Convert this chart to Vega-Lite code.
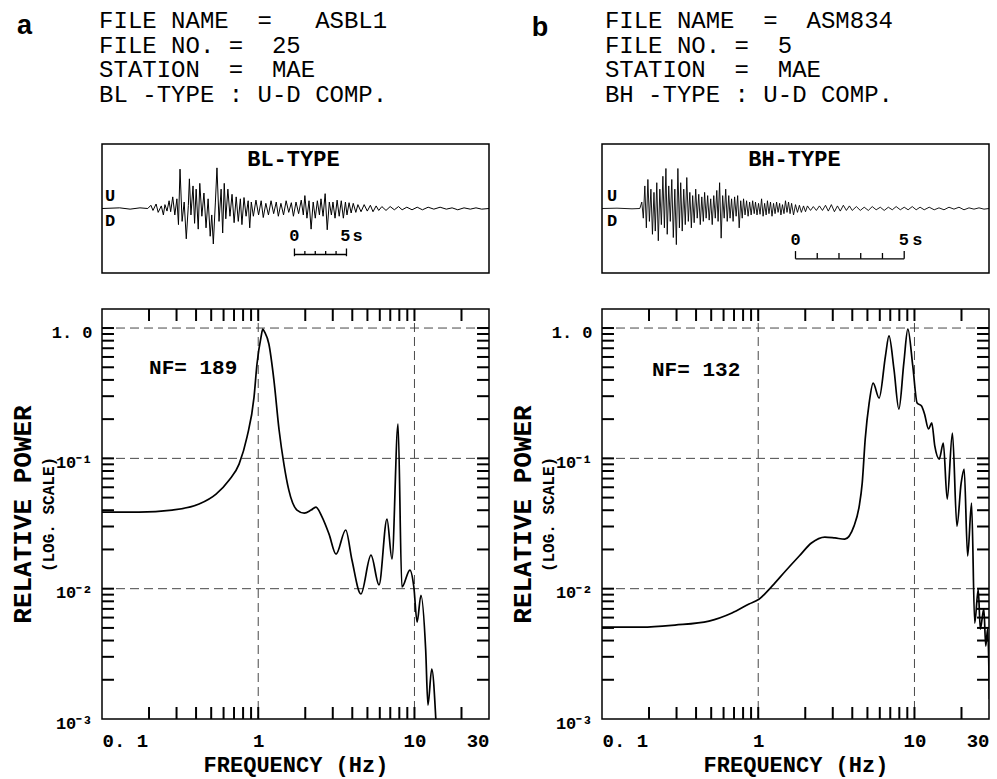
{
  "$schema": "https://vega.github.io/schema/vega-lite/v6.json",
  "background": "white",
  "padding": {"left": 8, "top": 0, "right": 0, "bottom": 3},
  "config": {
    "view": {"stroke": "black", "strokeWidth": 1.5},
    "axis": {"ticks": false, "domain": false, "grid": false, "labelFont": "Liberation Mono", "labelFontWeight": "bold", "labelColor": "black", "titleFont": "Liberation Mono", "titleFontWeight": "bold", "titleColor": "black"},
    "text": {"color": "black", "font": "Liberation Mono"}
  },
  "datasets": {
    "vgrid": [{"f": 1}, {"f": 10}],
    "hgrid": [{"p": 1}, {"p": 0.1}, {"p": 0.01}],
    "xtk": [{"f": 0.2, "b0": 0.001, "b1": 0.001236, "t0": 1.133, "t1": 1.4}, {"f": 0.3, "b0": 0.001, "b1": 0.001236, "t0": 1.133, "t1": 1.4}, {"f": 0.4, "b0": 0.001, "b1": 0.001236, "t0": 1.133, "t1": 1.4}, {"f": 0.5, "b0": 0.001, "b1": 0.001236, "t0": 1.133, "t1": 1.4}, {"f": 0.6, "b0": 0.001, "b1": 0.001236, "t0": 1.133, "t1": 1.4}, {"f": 0.7, "b0": 0.001, "b1": 0.001236, "t0": 1.133, "t1": 1.4}, {"f": 0.8, "b0": 0.001, "b1": 0.001236, "t0": 1.133, "t1": 1.4}, {"f": 0.9, "b0": 0.001, "b1": 0.001236, "t0": 1.133, "t1": 1.4}, {"f": 1, "b0": 0.001, "b1": 0.001236, "t0": 1.133, "t1": 1.4}, {"f": 2, "b0": 0.001, "b1": 0.001236, "t0": 1.133, "t1": 1.4}, {"f": 3, "b0": 0.001, "b1": 0.001236, "t0": 1.133, "t1": 1.4}, {"f": 4, "b0": 0.001, "b1": 0.001236, "t0": 1.133, "t1": 1.4}, {"f": 5, "b0": 0.001, "b1": 0.001236, "t0": 1.133, "t1": 1.4}, {"f": 6, "b0": 0.001, "b1": 0.001236, "t0": 1.133, "t1": 1.4}, {"f": 7, "b0": 0.001, "b1": 0.001236, "t0": 1.133, "t1": 1.4}, {"f": 8, "b0": 0.001, "b1": 0.001236, "t0": 1.133, "t1": 1.4}, {"f": 9, "b0": 0.001, "b1": 0.001236, "t0": 1.133, "t1": 1.4}, {"f": 10, "b0": 0.001, "b1": 0.001236, "t0": 1.133, "t1": 1.4}, {"f": 20, "b0": 0.001, "b1": 0.001236, "t0": 1.133, "t1": 1.4}],
    "ytk": [{"p": 0.002, "l0": 0.1, "l1": 0.1193, "r0": 25.15, "r1": 30}, {"p": 0.003, "l0": 0.1, "l1": 0.1193, "r0": 25.15, "r1": 30}, {"p": 0.004, "l0": 0.1, "l1": 0.1193, "r0": 25.15, "r1": 30}, {"p": 0.005, "l0": 0.1, "l1": 0.1193, "r0": 25.15, "r1": 30}, {"p": 0.006, "l0": 0.1, "l1": 0.1193, "r0": 25.15, "r1": 30}, {"p": 0.007, "l0": 0.1, "l1": 0.1193, "r0": 25.15, "r1": 30}, {"p": 0.008, "l0": 0.1, "l1": 0.1193, "r0": 25.15, "r1": 30}, {"p": 0.009, "l0": 0.1, "l1": 0.1193, "r0": 25.15, "r1": 30}, {"p": 0.01, "l0": 0.1, "l1": 0.1193, "r0": 25.15, "r1": 30}, {"p": 0.02, "l0": 0.1, "l1": 0.1193, "r0": 25.15, "r1": 30}, {"p": 0.03, "l0": 0.1, "l1": 0.1193, "r0": 25.15, "r1": 30}, {"p": 0.04, "l0": 0.1, "l1": 0.1193, "r0": 25.15, "r1": 30}, {"p": 0.05, "l0": 0.1, "l1": 0.1193, "r0": 25.15, "r1": 30}, {"p": 0.06, "l0": 0.1, "l1": 0.1193, "r0": 25.15, "r1": 30}, {"p": 0.07, "l0": 0.1, "l1": 0.1193, "r0": 25.15, "r1": 30}, {"p": 0.08, "l0": 0.1, "l1": 0.1193, "r0": 25.15, "r1": 30}, {"p": 0.09, "l0": 0.1, "l1": 0.1193, "r0": 25.15, "r1": 30}, {"p": 0.1, "l0": 0.1, "l1": 0.1193, "r0": 25.15, "r1": 30}, {"p": 0.2, "l0": 0.1, "l1": 0.1193, "r0": 25.15, "r1": 30}, {"p": 0.3, "l0": 0.1, "l1": 0.1193, "r0": 25.15, "r1": 30}, {"p": 0.4, "l0": 0.1, "l1": 0.1193, "r0": 25.15, "r1": 30}, {"p": 0.5, "l0": 0.1, "l1": 0.1193, "r0": 25.15, "r1": 30}, {"p": 0.6, "l0": 0.1, "l1": 0.1193, "r0": 25.15, "r1": 30}, {"p": 0.7, "l0": 0.1, "l1": 0.1193, "r0": 25.15, "r1": 30}, {"p": 0.8, "l0": 0.1, "l1": 0.1193, "r0": 25.15, "r1": 30}, {"p": 0.9, "l0": 0.1, "l1": 0.1193, "r0": 25.15, "r1": 30}, {"p": 1, "l0": 0.1, "l1": 0.1193, "r0": 25.15, "r1": 30}],
    "specA": [
      {"f": 0.1, "p": 0.0387}, {"f": 0.1725, "p": 0.0387}, {"f": 0.281, "p": 0.0401}, {"f": 0.418, "p": 0.0446}, {"f": 0.537, "p": 0.0532}, {"f": 0.65, "p": 0.068}, {"f": 0.754, "p": 0.0904}, {"f": 0.848, "p": 0.146}, {"f": 0.94, "p": 0.295}, {"f": 0.982, "p": 0.53}, {"f": 1.042, "p": 0.853}, {"f": 1.07, "p": 0.98}, {"f": 1.1, "p": 0.93}, {"f": 1.17, "p": 0.754}, {"f": 1.26, "p": 0.399}, {"f": 1.36, "p": 0.165}, {"f": 1.46, "p": 0.0904}, {"f": 1.57, "p": 0.057}, {"f": 1.77, "p": 0.0401}, {"f": 1.97, "p": 0.038}, {"f": 2.18, "p": 0.0401}, {"f": 2.34, "p": 0.0423}, {"f": 2.56, "p": 0.0355}, {"f": 2.84, "p": 0.0262}, {"f": 3.15, "p": 0.0184}, {"f": 3.63, "p": 0.0282}, {"f": 3.98, "p": 0.0166}, {"f": 4.54, "p": 0.0091}, {"f": 5.27, "p": 0.0181}, {"f": 5.93, "p": 0.0107}, {"f": 6.67, "p": 0.0342}, {"f": 7.18, "p": 0.0169}, {"f": 7.85, "p": 0.183}, {"f": 8.31, "p": 0.0103}, {"f": 9.35, "p": 0.0139}, {"f": 9.91, "p": 0.0103}, {"f": 10.4, "p": 0.00554}, {"f": 11.0, "p": 0.0089}, {"f": 11.8, "p": 0.00338}, {"f": 12.2, "p": 0.00128}, {"f": 12.9, "p": 0.00242}, {"f": 13.7, "p": 0.001}
    ],
    "specB": [
      {"f": 0.1, "p": 0.00507}, {"f": 0.18, "p": 0.00507}, {"f": 0.293, "p": 0.00526}, {"f": 0.484, "p": 0.00564}, {"f": 0.679, "p": 0.0065}, {"f": 0.873, "p": 0.00762}, {"f": 1.01, "p": 0.0083}, {"f": 1.23, "p": 0.0105}, {"f": 1.49, "p": 0.0136}, {"f": 1.83, "p": 0.0178}, {"f": 2.19, "p": 0.0224}, {"f": 2.67, "p": 0.0249}, {"f": 3.1, "p": 0.0245}, {"f": 3.58, "p": 0.024}, {"f": 4.1, "p": 0.0302}, {"f": 4.43, "p": 0.043}, {"f": 4.63, "p": 0.0646}, {"f": 4.84, "p": 0.141}, {"f": 5.13, "p": 0.266}, {"f": 5.44, "p": 0.378}, {"f": 5.94, "p": 0.29}, {"f": 6.52, "p": 0.61}, {"f": 6.87, "p": 0.87}, {"f": 7.39, "p": 0.485}, {"f": 7.95, "p": 0.239}, {"f": 8.55, "p": 0.54}, {"f": 9.07, "p": 0.98}, {"f": 9.76, "p": 0.51}, {"f": 10.4, "p": 0.266}, {"f": 11.1, "p": 0.252}, {"f": 11.6, "p": 0.219}, {"f": 12.3, "p": 0.168}, {"f": 12.9, "p": 0.187}, {"f": 13.5, "p": 0.124}, {"f": 14.4, "p": 0.0988}, {"f": 15.3, "p": 0.131}, {"f": 16.2, "p": 0.0487}, {"f": 17.5, "p": 0.156}, {"f": 18.7, "p": 0.0302}, {"f": 19.9, "p": 0.0646}, {"f": 20.8, "p": 0.0828}, {"f": 21.9, "p": 0.0178}, {"f": 23.2, "p": 0.0454}, {"f": 24.3, "p": 0.00544}, {"f": 25.6, "p": 0.0099}, {"f": 26.4, "p": 0.0049}, {"f": 27.8, "p": 0.007}, {"f": 28.6, "p": 0.00363}, {"f": 29.4, "p": 0.0049}, {"f": 30.2, "p": 0.00142}
    ],
    "seisA": [
      {"t": 0, "a": 0}, {"t": 1.7, "a": 0.01}, {"t": 2.7, "a": -0.01}, {"t": 3.65, "a": 0.01}, {"t": 4.4, "a": 0}, {"t": 4.7, "a": 0.05}, {"t": 4.9, "a": -0.03}, {"t": 5.2, "a": 0.07}, {"t": 5.4, "a": -0.06}, {"t": 5.7, "a": 0.04}, {"t": 5.9, "a": -0.1}, {"t": 6.05, "a": 0.06}, {"t": 6.25, "a": -0.04}, {"t": 6.45, "a": 0.12}, {"t": 6.6, "a": -0.05}, {"t": 6.8, "a": 0.18}, {"t": 7.0, "a": -0.1}, {"t": 7.2, "a": 0.15}, {"t": 7.35, "a": -0.25}, {"t": 7.5, "a": 0.61}, {"t": 7.7, "a": -0.2}, {"t": 7.9, "a": 0.1}, {"t": 8.1, "a": -0.47}, {"t": 8.3, "a": 0.05}, {"t": 8.4, "a": 0.46}, {"t": 8.55, "a": -0.1}, {"t": 8.75, "a": 0.35}, {"t": 8.9, "a": -0.23}, {"t": 9.05, "a": 0.3}, {"t": 9.25, "a": -0.32}, {"t": 9.4, "a": 0.39}, {"t": 9.6, "a": -0.12}, {"t": 9.8, "a": 0.24}, {"t": 10.0, "a": -0.3}, {"t": 10.2, "a": 0.15}, {"t": 10.4, "a": -0.43}, {"t": 10.55, "a": -0.1}, {"t": 10.7, "a": -0.55}, {"t": 10.9, "a": 0.1}, {"t": 11.05, "a": 0.63}, {"t": 11.25, "a": -0.2}, {"t": 11.45, "a": 0.3}, {"t": 11.6, "a": -0.38}, {"t": 11.75, "a": 0.39}, {"t": 11.9, "a": -0.16}, {"t": 12.1, "a": 0.3}, {"t": 12.3, "a": -0.12}, {"t": 12.5, "a": 0.22}, {"t": 12.7, "a": -0.22}, {"t": 12.9, "a": 0.18}, {"t": 13.1, "a": -0.2}, {"t": 13.3, "a": 0.15}, {"t": 13.45, "a": -0.25}, {"t": 13.65, "a": 0.17}, {"t": 13.85, "a": -0.12}, {"t": 14.05, "a": 0.12}, {"t": 14.2, "a": -0.3}, {"t": 14.35, "a": 0.1}, {"t": 14.55, "a": -0.12}, {"t": 14.8, "a": 0.13}, {"t": 15.05, "a": -0.1}, {"t": 15.3, "a": 0.12}, {"t": 15.5, "a": -0.14}, {"t": 15.75, "a": 0.08}, {"t": 16.0, "a": -0.1}, {"t": 16.25, "a": 0.12}, {"t": 16.5, "a": -0.08}, {"t": 16.75, "a": 0.1}, {"t": 16.95, "a": -0.12}, {"t": 17.2, "a": 0.08}, {"t": 17.45, "a": -0.1}, {"t": 17.7, "a": 0.12}, {"t": 17.95, "a": -0.06}, {"t": 18.2, "a": 0.09}, {"t": 18.4, "a": -0.12}, {"t": 18.65, "a": 0.1}, {"t": 18.9, "a": -0.08}, {"t": 19.15, "a": 0.13}, {"t": 19.35, "a": -0.1}, {"t": 19.5, "a": 0.2}, {"t": 19.7, "a": -0.15}, {"t": 19.9, "a": 0.12}, {"t": 20.1, "a": -0.32}, {"t": 20.3, "a": 0.1}, {"t": 20.5, "a": -0.15}, {"t": 20.7, "a": 0.12}, {"t": 20.9, "a": -0.1}, {"t": 21.05, "a": 0.15}, {"t": 21.25, "a": -0.12}, {"t": 21.45, "a": 0.23}, {"t": 21.65, "a": -0.33}, {"t": 21.85, "a": 0.1}, {"t": 22.05, "a": -0.1}, {"t": 22.2, "a": 0.1}, {"t": 22.4, "a": -0.15}, {"t": 22.6, "a": 0.13}, {"t": 22.8, "a": -0.12}, {"t": 23.0, "a": 0.12}, {"t": 23.2, "a": -0.15}, {"t": 23.4, "a": 0.1}, {"t": 23.55, "a": -0.1}, {"t": 23.75, "a": 0.09}, {"t": 23.95, "a": -0.07}, {"t": 24.15, "a": 0.08}, {"t": 24.4, "a": -0.06}, {"t": 24.6, "a": 0.06}, {"t": 24.9, "a": -0.05}, {"t": 25.2, "a": 0.06}, {"t": 25.5, "a": -0.04}, {"t": 25.8, "a": 0.05}, {"t": 26.05, "a": -0.05}, {"t": 26.35, "a": 0.04}, {"t": 26.6, "a": -0.03}, {"t": 26.9, "a": 0.03}, {"t": 27.3, "a": -0.03}, {"t": 27.7, "a": 0.03}, {"t": 28.1, "a": -0.02}, {"t": 28.5, "a": 0.03}, {"t": 28.85, "a": -0.02}, {"t": 29.3, "a": 0.02}, {"t": 29.8, "a": -0.02}, {"t": 30.3, "a": 0.02}, {"t": 30.8, "a": -0.02}, {"t": 31.35, "a": 0.02}, {"t": 31.9, "a": -0.01}, {"t": 32.5, "a": 0.02}, {"t": 33.1, "a": -0.01}, {"t": 33.65, "a": 0.01}, {"t": 34.2, "a": -0.02}, {"t": 34.8, "a": 0.01}, {"t": 35.4, "a": -0.01}, {"t": 35.95, "a": 0.01}, {"t": 36.5, "a": -0.01}, {"t": 37.2, "a": 0}
    ],
    "seisB": [
      {"t": 0, "a": 0}, {"t": 0.69, "a": 0.005}, {"t": 1.38, "a": -0.005}, {"t": 1.74, "a": 0}, {"t": 1.83, "a": 0.1}, {"t": 1.9, "a": -0.15}, {"t": 1.97, "a": 0.35}, {"t": 2.04, "a": -0.3}, {"t": 2.11, "a": 0.45}, {"t": 2.18, "a": -0.2}, {"t": 2.25, "a": 0.3}, {"t": 2.32, "a": -0.4}, {"t": 2.39, "a": 0.25}, {"t": 2.45, "a": -0.35}, {"t": 2.52, "a": 0.4}, {"t": 2.59, "a": -0.5}, {"t": 2.66, "a": 0.3}, {"t": 2.73, "a": -0.25}, {"t": 2.8, "a": 0.5}, {"t": 2.87, "a": -0.3}, {"t": 2.94, "a": 0.62}, {"t": 3.0, "a": -0.4}, {"t": 3.07, "a": 0.35}, {"t": 3.14, "a": -0.2}, {"t": 3.21, "a": 0.45}, {"t": 3.28, "a": -0.45}, {"t": 3.35, "a": 0.3}, {"t": 3.42, "a": -0.56}, {"t": 3.49, "a": 0.62}, {"t": 3.56, "a": -0.3}, {"t": 3.62, "a": 0.4}, {"t": 3.69, "a": -0.35}, {"t": 3.76, "a": 0.3}, {"t": 3.83, "a": -0.25}, {"t": 3.9, "a": 0.48}, {"t": 3.97, "a": -0.2}, {"t": 4.04, "a": 0.25}, {"t": 4.11, "a": -0.3}, {"t": 4.17, "a": 0.2}, {"t": 4.24, "a": -0.22}, {"t": 4.31, "a": 0.3}, {"t": 4.38, "a": -0.15}, {"t": 4.45, "a": 0.22}, {"t": 4.52, "a": -0.25}, {"t": 4.59, "a": 0.18}, {"t": 4.66, "a": -0.2}, {"t": 4.72, "a": 0.25}, {"t": 4.79, "a": -0.15}, {"t": 4.86, "a": 0.2}, {"t": 4.93, "a": -0.18}, {"t": 5.0, "a": 0.15}, {"t": 5.07, "a": -0.25}, {"t": 5.14, "a": 0.2}, {"t": 5.21, "a": -0.15}, {"t": 5.28, "a": 0.28}, {"t": 5.34, "a": -0.2}, {"t": 5.41, "a": 0.4}, {"t": 5.48, "a": -0.46}, {"t": 5.55, "a": 0.2}, {"t": 5.62, "a": -0.15}, {"t": 5.69, "a": 0.3}, {"t": 5.76, "a": -0.2}, {"t": 5.83, "a": 0.2}, {"t": 5.89, "a": -0.15}, {"t": 5.96, "a": 0.15}, {"t": 6.03, "a": -0.2}, {"t": 6.1, "a": 0.18}, {"t": 6.17, "a": -0.12}, {"t": 6.24, "a": 0.2}, {"t": 6.31, "a": -0.3}, {"t": 6.38, "a": 0.12}, {"t": 6.45, "a": -0.15}, {"t": 6.51, "a": 0.15}, {"t": 6.58, "a": -0.1}, {"t": 6.65, "a": 0.12}, {"t": 6.72, "a": -0.12}, {"t": 6.79, "a": 0.1}, {"t": 6.86, "a": -0.1}, {"t": 6.93, "a": 0.12}, {"t": 7.0, "a": -0.08}, {"t": 7.06, "a": 0.1}, {"t": 7.13, "a": -0.1}, {"t": 7.2, "a": 0.08}, {"t": 7.27, "a": -0.09}, {"t": 7.34, "a": 0.15}, {"t": 7.41, "a": -0.12}, {"t": 7.48, "a": 0.08}, {"t": 7.55, "a": -0.1}, {"t": 7.61, "a": 0.12}, {"t": 7.68, "a": -0.08}, {"t": 7.75, "a": 0.1}, {"t": 7.82, "a": -0.12}, {"t": 7.89, "a": 0.08}, {"t": 7.96, "a": -0.08}, {"t": 8.03, "a": 0.1}, {"t": 8.1, "a": -0.06}, {"t": 8.17, "a": 0.08}, {"t": 8.23, "a": -0.1}, {"t": 8.3, "a": 0.06}, {"t": 8.37, "a": -0.08}, {"t": 8.44, "a": 0.12}, {"t": 8.51, "a": -0.06}, {"t": 8.58, "a": 0.1}, {"t": 8.65, "a": -0.08}, {"t": 8.72, "a": 0.08}, {"t": 8.81, "a": -0.1}, {"t": 8.9, "a": 0.06}, {"t": 8.99, "a": -0.06}, {"t": 9.08, "a": 0.05}, {"t": 9.17, "a": -0.06}, {"t": 9.27, "a": 0.04}, {"t": 9.36, "a": -0.05}, {"t": 9.45, "a": 0.04}, {"t": 9.59, "a": -0.03}, {"t": 9.72, "a": 0.03}, {"t": 9.86, "a": -0.03}, {"t": 10.0, "a": 0.04}, {"t": 10.14, "a": -0.03}, {"t": 10.28, "a": 0.05}, {"t": 10.41, "a": -0.04}, {"t": 10.55, "a": 0.06}, {"t": 10.69, "a": -0.05}, {"t": 10.83, "a": 0.04}, {"t": 10.96, "a": -0.04}, {"t": 11.1, "a": 0.05}, {"t": 11.24, "a": -0.03}, {"t": 11.38, "a": 0.04}, {"t": 11.51, "a": -0.03}, {"t": 11.7, "a": 0.03}, {"t": 11.88, "a": -0.03}, {"t": 12.06, "a": 0.02}, {"t": 12.25, "a": -0.03}, {"t": 12.43, "a": 0.03}, {"t": 12.61, "a": -0.02}, {"t": 12.8, "a": 0.02}, {"t": 12.98, "a": -0.03}, {"t": 13.17, "a": 0.02}, {"t": 13.35, "a": -0.02}, {"t": 13.53, "a": 0.03}, {"t": 13.72, "a": -0.02}, {"t": 13.9, "a": 0.02}, {"t": 14.08, "a": -0.02}, {"t": 14.27, "a": 0.03}, {"t": 14.45, "a": -0.02}, {"t": 14.63, "a": 0.02}, {"t": 14.82, "a": -0.02}, {"t": 15.05, "a": 0.02}, {"t": 15.28, "a": -0.02}, {"t": 15.5, "a": 0.01}, {"t": 15.73, "a": -0.02}, {"t": 15.96, "a": 0.02}, {"t": 16.19, "a": -0.01}, {"t": 16.42, "a": 0.02}, {"t": 16.65, "a": -0.02}, {"t": 16.88, "a": 0.01}, {"t": 17.11, "a": -0.01}, {"t": 17.34, "a": 0.01}, {"t": 17.57, "a": -0.01}, {"t": 17.8, "a": 0}
    ]
  },
  "spacing": 14,
  "hconcat": [
    {
      "spacing": 30,
      "vconcat": [
        {
          "width": 387, "height": 113, "view": {"stroke": null},
          "layer": [
            {
              "data": {"values": [
                {"col": -0.2, "line": 1, "text": "FILE NAME\u00a0\u00a0=\u00a0\u00a0\u00a0ASBL1"},
                {"col": -0.2, "line": 2, "text": "FILE NO.\u00a0=\u00a0\u00a025"},
                {"col": -0.2, "line": 3, "text": "STATION\u00a0\u00a0=\u00a0\u00a0MAE"},
                {"col": -0.2, "line": 4, "text": "BL\u00a0-TYPE\u00a0:\u00a0U-D\u00a0COMP."}
              ]},
              "mark": {"type": "text", "align": "left", "baseline": "middle", "font": "Liberation Mono", "fontSize": 24},
              "encoding": {
                "x": {"field": "col", "type": "quantitative", "scale": {"domain": [0, 26.69]}, "axis": null},
                "y": {"field": "line", "type": "quantitative", "scale": {"domain": [0.15, 4.74], "reverse": true}, "axis": null},
                "text": {"field": "text"}
              }
            },
            {
              "data": {"values": [{"col": -5.34, "line": 1.55, "text": "a"}]},
              "mark": {"type": "text", "align": "center", "baseline": "alphabetic", "font": "Liberation Sans", "fontWeight": "bold", "fontSize": 27},
              "encoding": {
                "x": {"field": "col", "type": "quantitative", "scale": {"domain": [0, 26.69]}, "axis": null},
                "y": {"field": "line", "type": "quantitative", "scale": {"domain": [0.15, 4.74], "reverse": true}, "axis": null},
                "text": {"field": "text"}
              }
            }
          ]
        },
        {
          "width": 387, "height": 129,
          "layer": [
            {
              "data": {"name": "seisA"},
              "mark": {"type": "line", "stroke": "black", "strokeWidth": 1, "clip": true},
              "encoding": {
                "x": {"field": "t", "type": "quantitative", "scale": {"domain": [0, 37.2], "nice": false}, "axis": null},
                "y": {"field": "a", "type": "quantitative", "scale": {"domain": [-1, 1]}, "axis": null}
              }
            },
            {
              "data": {"values": [{"t0": 18.5, "t1": 23.5, "a": -0.713}]},
              "mark": {"type": "rule", "stroke": "black", "strokeWidth": 1.3},
              "encoding": {
                "x": {"field": "t0", "type": "quantitative", "scale": {"domain": [0, 37.2], "nice": false}, "axis": null},
                "x2": {"field": "t1"},
                "y": {"field": "a", "type": "quantitative", "scale": {"domain": [-1, 1]}, "axis": null}
              }
            },
            {
              "data": {"values": [
                {"t": 18.5, "a0": -0.74, "a1": -0.62}, {"t": 19.5, "a0": -0.713, "a1": -0.66}, {"t": 20.5, "a0": -0.713, "a1": -0.66},
                {"t": 21.5, "a0": -0.713, "a1": -0.66}, {"t": 22.5, "a0": -0.713, "a1": -0.66}, {"t": 23.5, "a0": -0.74, "a1": -0.62}
              ]},
              "mark": {"type": "rule", "stroke": "black", "strokeWidth": 1.3},
              "encoding": {
                "x": {"field": "t", "type": "quantitative", "scale": {"domain": [0, 37.2], "nice": false}, "axis": null},
                "y": {"field": "a0", "type": "quantitative", "scale": {"domain": [-1, 1]}, "axis": null},
                "y2": {"field": "a1"}
              }
            },
            {
              "data": {"values": [{"t": 18.4, "a": 0.77, "text": "BL-TYPE"}]},
              "mark": {"type": "text", "align": "center", "baseline": "middle", "font": "Liberation Mono", "fontWeight": "bold", "fontSize": 22},
              "encoding": {
                "x": {"field": "t", "type": "quantitative", "scale": {"domain": [0, 37.2], "nice": false}, "axis": null},
                "y": {"field": "a", "type": "quantitative", "scale": {"domain": [-1, 1]}, "axis": null},
                "text": {"field": "text"}
              }
            },
            {
              "data": {"values": [{"t": 0.77, "a": 0.19, "text": "U"}, {"t": 0.77, "a": -0.2, "text": "D"}, {"t": 18.5, "a": -0.42, "text": "0"}, {"t": 23.4, "a": -0.42, "text": "5"}, {"t": 24.57, "a": -0.42, "text": "s"}]},
              "mark": {"type": "text", "align": "center", "baseline": "middle", "font": "Liberation Mono", "fontWeight": "bold", "fontSize": 17},
              "encoding": {
                "x": {"field": "t", "type": "quantitative", "scale": {"domain": [0, 37.2], "nice": false}, "axis": null},
                "y": {"field": "a", "type": "quantitative", "scale": {"domain": [-1, 1]}, "axis": null},
                "text": {"field": "text"}
              }
            }
          ]
        },
        {
          "width": 387, "height": 410,
          "resolve": {"axis": {"x": "independent", "y": "independent"}},
          "layer": [
            {
              "data": {"name": "vgrid"},
              "mark": {"type": "rule", "strokeDash": [9, 5], "stroke": "#333333", "strokeWidth": 0.9},
              "encoding": {
                "x": {"field": "f", "type": "quantitative", "scale": {"type": "log", "domain": [0.1, 30], "nice": false}, "axis": null}
              }
            },
            {
              "data": {"name": "hgrid"},
              "mark": {"type": "rule", "strokeDash": [9, 5], "stroke": "#333333", "strokeWidth": 0.9},
              "encoding": {
                "y": {"field": "p", "type": "quantitative", "scale": {"type": "log", "domain": [0.001, 1.4], "nice": false}, "axis": null}
              }
            },
            {
              "data": {"name": "specA"},
              "mark": {"type": "line", "interpolate": "monotone", "stroke": "black", "strokeWidth": 1.7, "clip": true},
              "encoding": {
                "x": {"field": "f", "type": "quantitative", "scale": {"type": "log", "domain": [0.1, 30], "nice": false},
                  "axis": {"orient": "bottom", "values": [0.1, 1, 10, 30],
                    "labelExpr": "datum.value == 0.1 ? '0. 1' : datum.value == 1 ? '1' : datum.value == 10 ? '10' : '30'",
                    "labelFlush": true, "labelOverlap": false, "labelFontSize": 19, "labelPadding": 12,
                    "title": "FREQUENCY (Hz)", "titleFontSize": 22, "titlePadding": 4}},
                "y": {"field": "p", "type": "quantitative", "scale": {"type": "log", "domain": [0.001, 1.4], "nice": false},
                  "axis": {"orient": "left", "values": [0.001, 0.01, 0.1, 1],
                    "labelExpr": "datum.value == 1 ? '1. 0' : datum.value == 0.1 ? '10⁻¹' : datum.value == 0.01 ? '10⁻²' : '10⁻³'",
                    "labelOverlap": false, "labelFontSize": 17, "labelPadding": 10, "labelOffset": 4,
                    "title": "RELATIVE POWER", "titleFontSize": 26, "titlePadding": 16}}
              }
            },
            {
              "data": {"name": "xtk"},
              "transform": [{"fold": ["b0", "b1"], "as": ["end", "v"]}],
              "mark": {"type": "line", "stroke": "black", "strokeWidth": 2},
              "encoding": {
                "x": {"field": "f", "type": "quantitative", "scale": {"type": "log", "domain": [0.1, 30], "nice": false}, "axis": null},
                "y": {"field": "v", "type": "quantitative", "scale": {"type": "log", "domain": [0.001, 1.4], "nice": false}, "axis": null},
                "detail": {"field": "f", "type": "nominal"}
              }
            },
            {
              "data": {"name": "xtk"},
              "transform": [{"fold": ["t0", "t1"], "as": ["end", "v"]}],
              "mark": {"type": "line", "stroke": "black", "strokeWidth": 2},
              "encoding": {
                "x": {"field": "f", "type": "quantitative", "scale": {"type": "log", "domain": [0.1, 30], "nice": false}, "axis": null},
                "y": {"field": "v", "type": "quantitative", "scale": {"type": "log", "domain": [0.001, 1.4], "nice": false}, "axis": null},
                "detail": {"field": "f", "type": "nominal"}
              }
            },
            {
              "data": {"name": "ytk"},
              "transform": [{"fold": ["l0", "l1"], "as": ["end", "v"]}],
              "mark": {"type": "line", "stroke": "black", "strokeWidth": 2},
              "encoding": {
                "x": {"field": "v", "type": "quantitative", "scale": {"type": "log", "domain": [0.1, 30], "nice": false}, "axis": null},
                "y": {"field": "p", "type": "quantitative", "scale": {"type": "log", "domain": [0.001, 1.4], "nice": false}, "axis": null},
                "detail": {"field": "p", "type": "nominal"}
              }
            },
            {
              "data": {"name": "ytk"},
              "transform": [{"fold": ["r0", "r1"], "as": ["end", "v"]}],
              "mark": {"type": "line", "stroke": "black", "strokeWidth": 2},
              "encoding": {
                "x": {"field": "v", "type": "quantitative", "scale": {"type": "log", "domain": [0.1, 30], "nice": false}, "axis": null},
                "y": {"field": "p", "type": "quantitative", "scale": {"type": "log", "domain": [0.001, 1.4], "nice": false}, "axis": null},
                "detail": {"field": "p", "type": "nominal"}
              }
            },
            {
              "data": {"values": [{"f": 0.2, "p": 0.49, "text": "NF= 189"}]},
              "mark": {"type": "text", "align": "left", "baseline": "middle", "font": "Liberation Mono", "fontWeight": "bold", "fontSize": 21},
              "encoding": {
                "x": {"field": "f", "type": "quantitative", "scale": {"type": "log", "domain": [0.1, 30], "nice": false}, "axis": null},
                "y": {"field": "p", "type": "quantitative", "scale": {"type": "log", "domain": [0.001, 1.4], "nice": false},
                  "axis": {"orient": "left", "labels": false, "title": "(LOG. SCALE)", "titleFontSize": 16, "titlePadding": 46, "minExtent": 0}},
                "text": {"field": "text"}
              }
            }
          ]
        }
      ]
    },
    {
      "spacing": 30,
      "vconcat": [
        {
          "width": 387, "height": 113, "view": {"stroke": null},
          "layer": [
            {
              "data": {"values": [
                {"col": 0.2, "line": 1, "text": "FILE NAME\u00a0\u00a0=\u00a0\u00a0ASM834"},
                {"col": 0.2, "line": 2, "text": "FILE NO.\u00a0=\u00a0\u00a05"},
                {"col": 0.2, "line": 3, "text": "STATION\u00a0\u00a0=\u00a0\u00a0MAE"},
                {"col": 0.2, "line": 4, "text": "BH\u00a0-TYPE\u00a0:\u00a0U-D\u00a0COMP."}
              ]},
              "mark": {"type": "text", "align": "left", "baseline": "middle", "font": "Liberation Mono", "fontSize": 24},
              "encoding": {
                "x": {"field": "col", "type": "quantitative", "scale": {"domain": [0, 26.69]}, "axis": null},
                "y": {"field": "line", "type": "quantitative", "scale": {"domain": [0.15, 4.74], "reverse": true}, "axis": null},
                "text": {"field": "text"}
              }
            },
            {
              "data": {"values": [{"col": -4.28, "line": 1.6, "text": "b"}]},
              "mark": {"type": "text", "align": "center", "baseline": "alphabetic", "font": "Liberation Sans", "fontWeight": "bold", "fontSize": 27},
              "encoding": {
                "x": {"field": "col", "type": "quantitative", "scale": {"domain": [0, 26.69]}, "axis": null},
                "y": {"field": "line", "type": "quantitative", "scale": {"domain": [0.15, 4.74], "reverse": true}, "axis": null},
                "text": {"field": "text"}
              }
            }
          ]
        },
        {
          "width": 387, "height": 129,
          "layer": [
            {
              "data": {"name": "seisB"},
              "mark": {"type": "line", "stroke": "black", "strokeWidth": 0.9, "clip": true},
              "encoding": {
                "x": {"field": "t", "type": "quantitative", "scale": {"domain": [0, 17.8], "nice": false}, "axis": null},
                "y": {"field": "a", "type": "quantitative", "scale": {"domain": [-1, 1]}, "axis": null}
              }
            },
            {
              "data": {"values": [{"t0": 8.9, "t1": 13.9, "a": -0.78}]},
              "mark": {"type": "rule", "stroke": "black", "strokeWidth": 1.3},
              "encoding": {
                "x": {"field": "t0", "type": "quantitative", "scale": {"domain": [0, 17.8], "nice": false}, "axis": null},
                "x2": {"field": "t1"},
                "y": {"field": "a", "type": "quantitative", "scale": {"domain": [-1, 1]}, "axis": null}
              }
            },
            {
              "data": {"values": [
                {"t": 8.9, "a0": -0.78, "a1": -0.66}, {"t": 9.9, "a0": -0.78, "a1": -0.69}, {"t": 10.9, "a0": -0.78, "a1": -0.69},
                {"t": 11.9, "a0": -0.78, "a1": -0.69}, {"t": 12.9, "a0": -0.78, "a1": -0.69}, {"t": 13.9, "a0": -0.78, "a1": -0.66}
              ]},
              "mark": {"type": "rule", "stroke": "black", "strokeWidth": 1.3},
              "encoding": {
                "x": {"field": "t", "type": "quantitative", "scale": {"domain": [0, 17.8], "nice": false}, "axis": null},
                "y": {"field": "a0", "type": "quantitative", "scale": {"domain": [-1, 1]}, "axis": null},
                "y2": {"field": "a1"}
              }
            },
            {
              "data": {"values": [{"t": 8.85, "a": 0.77, "text": "BH-TYPE"}]},
              "mark": {"type": "text", "align": "center", "baseline": "middle", "font": "Liberation Mono", "fontWeight": "bold", "fontSize": 22},
              "encoding": {
                "x": {"field": "t", "type": "quantitative", "scale": {"domain": [0, 17.8], "nice": false}, "axis": null},
                "y": {"field": "a", "type": "quantitative", "scale": {"domain": [-1, 1]}, "axis": null},
                "text": {"field": "text"}
              }
            },
            {
              "data": {"values": [{"t": 0.46, "a": 0.19, "text": "U"}, {"t": 0.46, "a": -0.2, "text": "D"}, {"t": 8.9, "a": -0.49, "text": "0"}, {"t": 13.88, "a": -0.49, "text": "5"}, {"t": 14.5, "a": -0.49, "text": "s"}]},
              "mark": {"type": "text", "align": "center", "baseline": "middle", "font": "Liberation Mono", "fontWeight": "bold", "fontSize": 17},
              "encoding": {
                "x": {"field": "t", "type": "quantitative", "scale": {"domain": [0, 17.8], "nice": false}, "axis": null},
                "y": {"field": "a", "type": "quantitative", "scale": {"domain": [-1, 1]}, "axis": null},
                "text": {"field": "text"}
              }
            }
          ]
        },
        {
          "width": 387, "height": 410,
          "resolve": {"axis": {"x": "independent", "y": "independent"}},
          "layer": [
            {
              "data": {"name": "vgrid"},
              "mark": {"type": "rule", "strokeDash": [9, 5], "stroke": "#333333", "strokeWidth": 0.9},
              "encoding": {
                "x": {"field": "f", "type": "quantitative", "scale": {"type": "log", "domain": [0.1, 30], "nice": false}, "axis": null}
              }
            },
            {
              "data": {"name": "hgrid"},
              "mark": {"type": "rule", "strokeDash": [9, 5], "stroke": "#333333", "strokeWidth": 0.9},
              "encoding": {
                "y": {"field": "p", "type": "quantitative", "scale": {"type": "log", "domain": [0.001, 1.4], "nice": false}, "axis": null}
              }
            },
            {
              "data": {"name": "specB"},
              "mark": {"type": "line", "interpolate": "monotone", "stroke": "black", "strokeWidth": 1.7, "clip": true},
              "encoding": {
                "x": {"field": "f", "type": "quantitative", "scale": {"type": "log", "domain": [0.1, 30], "nice": false},
                  "axis": {"orient": "bottom", "values": [0.1, 1, 10, 30],
                    "labelExpr": "datum.value == 0.1 ? '0. 1' : datum.value == 1 ? '1' : datum.value == 10 ? '10' : '30'",
                    "labelFlush": true, "labelOverlap": false, "labelFontSize": 19, "labelPadding": 12,
                    "title": "FREQUENCY (Hz)", "titleFontSize": 22, "titlePadding": 4}},
                "y": {"field": "p", "type": "quantitative", "scale": {"type": "log", "domain": [0.001, 1.4], "nice": false},
                  "axis": {"orient": "left", "values": [0.001, 0.01, 0.1, 1],
                    "labelExpr": "datum.value == 1 ? '1. 0' : datum.value == 0.1 ? '10⁻¹' : datum.value == 0.01 ? '10⁻²' : '10⁻³'",
                    "labelOverlap": false, "labelFontSize": 17, "labelPadding": 10, "labelOffset": 4,
                    "title": "RELATIVE POWER", "titleFontSize": 26, "titlePadding": 16}}
              }
            },
            {
              "data": {"name": "xtk"},
              "transform": [{"fold": ["b0", "b1"], "as": ["end", "v"]}],
              "mark": {"type": "line", "stroke": "black", "strokeWidth": 2},
              "encoding": {
                "x": {"field": "f", "type": "quantitative", "scale": {"type": "log", "domain": [0.1, 30], "nice": false}, "axis": null},
                "y": {"field": "v", "type": "quantitative", "scale": {"type": "log", "domain": [0.001, 1.4], "nice": false}, "axis": null},
                "detail": {"field": "f", "type": "nominal"}
              }
            },
            {
              "data": {"name": "xtk"},
              "transform": [{"fold": ["t0", "t1"], "as": ["end", "v"]}],
              "mark": {"type": "line", "stroke": "black", "strokeWidth": 2},
              "encoding": {
                "x": {"field": "f", "type": "quantitative", "scale": {"type": "log", "domain": [0.1, 30], "nice": false}, "axis": null},
                "y": {"field": "v", "type": "quantitative", "scale": {"type": "log", "domain": [0.001, 1.4], "nice": false}, "axis": null},
                "detail": {"field": "f", "type": "nominal"}
              }
            },
            {
              "data": {"name": "ytk"},
              "transform": [{"fold": ["l0", "l1"], "as": ["end", "v"]}],
              "mark": {"type": "line", "stroke": "black", "strokeWidth": 2},
              "encoding": {
                "x": {"field": "v", "type": "quantitative", "scale": {"type": "log", "domain": [0.1, 30], "nice": false}, "axis": null},
                "y": {"field": "p", "type": "quantitative", "scale": {"type": "log", "domain": [0.001, 1.4], "nice": false}, "axis": null},
                "detail": {"field": "p", "type": "nominal"}
              }
            },
            {
              "data": {"name": "ytk"},
              "transform": [{"fold": ["r0", "r1"], "as": ["end", "v"]}],
              "mark": {"type": "line", "stroke": "black", "strokeWidth": 2},
              "encoding": {
                "x": {"field": "v", "type": "quantitative", "scale": {"type": "log", "domain": [0.1, 30], "nice": false}, "axis": null},
                "y": {"field": "p", "type": "quantitative", "scale": {"type": "log", "domain": [0.001, 1.4], "nice": false}, "axis": null},
                "detail": {"field": "p", "type": "nominal"}
              }
            },
            {
              "data": {"values": [{"f": 0.209, "p": 0.476, "text": "NF= 132"}]},
              "mark": {"type": "text", "align": "left", "baseline": "middle", "font": "Liberation Mono", "fontWeight": "bold", "fontSize": 21},
              "encoding": {
                "x": {"field": "f", "type": "quantitative", "scale": {"type": "log", "domain": [0.1, 30], "nice": false}, "axis": null},
                "y": {"field": "p", "type": "quantitative", "scale": {"type": "log", "domain": [0.001, 1.4], "nice": false},
                  "axis": {"orient": "left", "labels": false, "title": "(LOG. SCALE)", "titleFontSize": 16, "titlePadding": 46, "minExtent": 0}},
                "text": {"field": "text"}
              }
            }
          ]
        }
      ]
    }
  ]
}
